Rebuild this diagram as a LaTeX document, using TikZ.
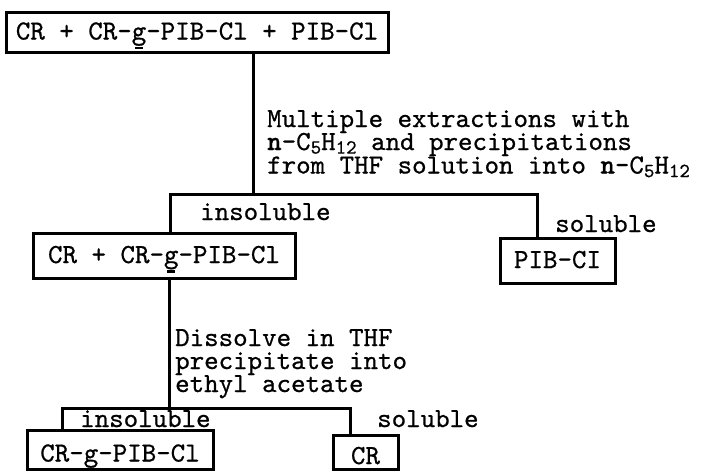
\documentclass[tikz,border=0pt]{standalone}
\usepackage{fontspec}
\newfontfamily\tw{lmmono10-regular.otf}[FakeBold=0.7, BoldFont=lmmonolt10-bold.otf, BoldFeatures={FakeBold=0.7}]
\newcommand{\sbs}[1]{\raisebox{-0.3ex}{\fontsize{20}{20}\selectfont #1}}
\newcommand{\ug}{\makebox[0pt][l]{\hspace{0.12em}\rule[-0.36em]{0.27em}{2.5pt}}g}
\begin{document}
\begin{tikzpicture}[x=1pt,y=-1pt,
  font=\tw\fontsize{27.6}{29}\selectfont,
  box/.style={draw, line width=3pt, inner sep=0pt, text height=20pt, text depth=5pt},
  lowbox/.style={box, text height=25pt, text depth=1pt},
  conn/.style={line width=3pt, line join=miter},
  lbl/.style={anchor=base west, inner sep=0pt, text height=16pt, text depth=3pt}]
\useasboundingbox (0,0) rectangle (711,471);

\node[box, minimum width=382pt, minimum height=40pt] (top) at (197,32) {CR + CR-\ug-PIB-Cl + PIB-Cl};
\node[box, minimum width=262pt, minimum height=45pt] (mid) at (164,255.5) {CR + CR-\ug-PIB-Cl};
\node[box, minimum width=115pt, minimum height=45pt] (pib) at (557.5,260.5) {PIB-CI};
\node[lowbox, minimum width=186pt, minimum height=39pt] (crg) at (120,449.5) {CR-\ug-PIB-Cl};
\node[lowbox, minimum width=65pt, minimum height=34pt] (cr) at (365.5,452) {CR};

\coordinate (j1) at (253,194);
\coordinate (l1) at (170,194);
\coordinate (r1) at (537,194);
\draw[conn] (top.south -| j1) -- (j1);
\draw[conn] (mid.north -| l1) -- (l1) -- (r1) -- (pib.north -| r1);

\coordinate (j2) at (169,408);
\coordinate (l2) at (62,408);
\coordinate (r2) at (350,408);
\draw[conn] (mid.south -| j2) -- (j2);
\draw[conn] (crg.north -| l2) -- (l2) -- (r2) -- (cr.north -| r2);

\node[lbl] (m1) at (267,127) {Multiple extractions with};
\node[lbl] (m2) at (267,150) {{\bfseries n}-C\sbs{5}H\sbs{12} and precipitations};
\node[lbl] (m3) at (267,173.5) {from THF solution into {\bfseries n}-C\sbs{5}H\sbs{12}};
\node[lbl] (ins1) at (200,220) {insoluble};
\node[lbl] (sol1) at (555,232) {soluble};

\node[lbl] (d1) at (175,346) {Dissolve in THF};
\node[lbl] (d2) at (175,369) {precipitate into};
\node[lbl] (d3) at (175,392) {ethyl acetate};
\node[lbl] (ins2) at (80,427) {insoluble};
\node[lbl] (sol2) at (377,427) {soluble};
\end{tikzpicture}
\end{document}
